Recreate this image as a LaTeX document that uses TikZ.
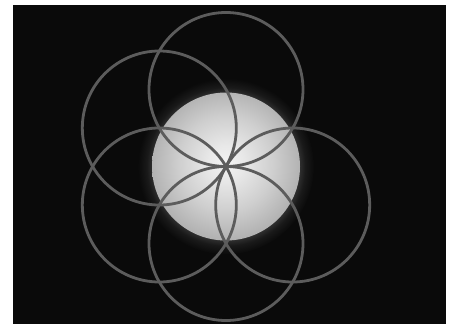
\documentclass[tikz,border=0pt]{standalone}
\usetikzlibrary{calc}
\definecolor{bgblack}{gray}{0.04}
\definecolor{ringgray}{gray}{0.36}
\pgfdeclareradialshading{diskshade}{\pgfpoint{0bp}{1.5bp}}{%
  color(0bp)=(white!95!black); color(6bp)=(white!91!black);
  color(16bp)=(white!81!black); color(25bp)=(white!70!black);
  color(50bp)=(white!70!black)}
\pgfdeclareradialshading{haloshade}{\pgfpoint{0bp}{0bp}}{%
  color(0bp)=(black!82); color(21bp)=(black!82);
  color(22.5bp)=(black!90); color(25bp)=(bgblack); color(50bp)=(bgblack)}
\tikzset{
  ring/.style={draw=ringgray, line width=2.8pt},
}
\begin{document}
\begin{tikzpicture}[x=1pt,y=-1pt]
  \useasboundingbox (0,0) rectangle (455,324);
  \fill[white] (0,0) rectangle (455,324);
  \fill[bgblack] (13,5) rectangle (446,324);
  \coordinate (O) at (226,166.5);
  % glow and disk
  \shade[shading=haloshade] (O) circle (88);
  \shade[shading=diskshade] (O) circle (74);
  % five circles of the seed pattern (upper-right one absent)
  \foreach \a/\n in {90/top, 150/ul, 210/ll, 270/bot, 330/lr}{
    \coordinate (\n) at ($(O)+(\a:77 and -77)$);
  }
  \foreach \n in {top, ul, ll, bot, lr}{
    \draw[ring] (\n) circle (77);
  }
\end{tikzpicture}
\end{document}
